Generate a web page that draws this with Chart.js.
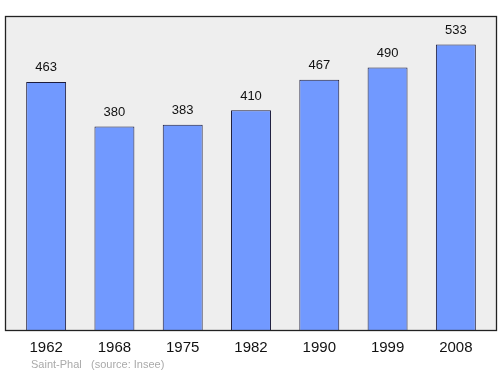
<!DOCTYPE html>
<html>
<head>
<meta charset="utf-8">
<script src="https://cdn.jsdelivr.net/npm/chart.js@4/dist/chart.umd.min.js"></script>
<style>
html,body{margin:0;padding:0;background:#fff;}
#wrap{width:500px;height:374px;position:relative;}
</style>
</head>
<body>
<div id="wrap"><canvas id="c" width="500" height="374"></canvas></div>
<script>
const years = ["1962","1968","1975","1982","1990","1999","2008"];
const population = [463,380,383,410,467,490,533];
const yMax = 586;
const townName = "Saint-Phal";
const sourceNote = "(source: Insee)";

const FONT = "'Liberation Sans', Arial, sans-serif";

const boxPlugin = {
  id: 'box',
  beforeDatasetsDraw(chart) {
    const ctx = chart.ctx, a = chart.chartArea;
    const l = a.left - 7, r = a.right + 6, t = a.top, b = a.bottom;
    ctx.save();
    ctx.fillStyle = '#eeeeee';
    ctx.fillRect(l, t, r - l, b - t);
    ctx.restore();
  },
  afterDatasetsDraw(chart) {
    const ctx = chart.ctx, a = chart.chartArea;
    const l = a.left - 7, r = a.right + 6, t = a.top, b = a.bottom;
    ctx.save();
    ctx.strokeStyle = '#222';
    ctx.lineWidth = 1.3;
    ctx.strokeRect(Math.round(l) + 0.5, Math.round(t) + 0.5, Math.round(r - l), Math.round(b - t));
    // value labels
    const meta = chart.getDatasetMeta(0);
    ctx.fillStyle = '#111';
    ctx.font = '13px ' + FONT;
    ctx.textAlign = 'center';
    ctx.textBaseline = 'middle';
    meta.data.forEach((bar, i) => {
      ctx.fillText(String(population[i]), bar.x, bar.y - 14);
    });
    // footer
    ctx.fillStyle = '#aaaaaa';
    ctx.font = '11px ' + FONT;
    ctx.textAlign = 'left';
    ctx.fillText(townName, 31, 365);
    ctx.fillText(sourceNote, 91, 365);
    ctx.restore();
  }
};

new Chart(document.getElementById('c'), {
  type: 'bar',
  data: {
    labels: years,
    datasets: [{
      data: population,
      backgroundColor: '#7199ff',
      borderColor: '#1c1c3c',
      borderWidth: 1,
      barPercentage: 0.585,
      categoryPercentage: 1.0
    }]
  },
  options: {
    responsive: false,
    animation: false,
    devicePixelRatio: 1,
    layout: { padding: { left: 12, right: 10, top: 16, bottom: 8 } },
    plugins: { legend: { display: false }, tooltip: { enabled: false } },
    scales: {
      x: {
        offset: true,
        grid: { display: false, drawTicks: false },
        border: { display: false },
        ticks: { color: '#111', font: { family: FONT, size: 15 }, padding: 9, maxRotation: 0 }
      },
      y: {
        display: false,
        min: 0,
        max: yMax
      }
    }
  },
  plugins: [boxPlugin]
});
</script>
</body>
</html>
